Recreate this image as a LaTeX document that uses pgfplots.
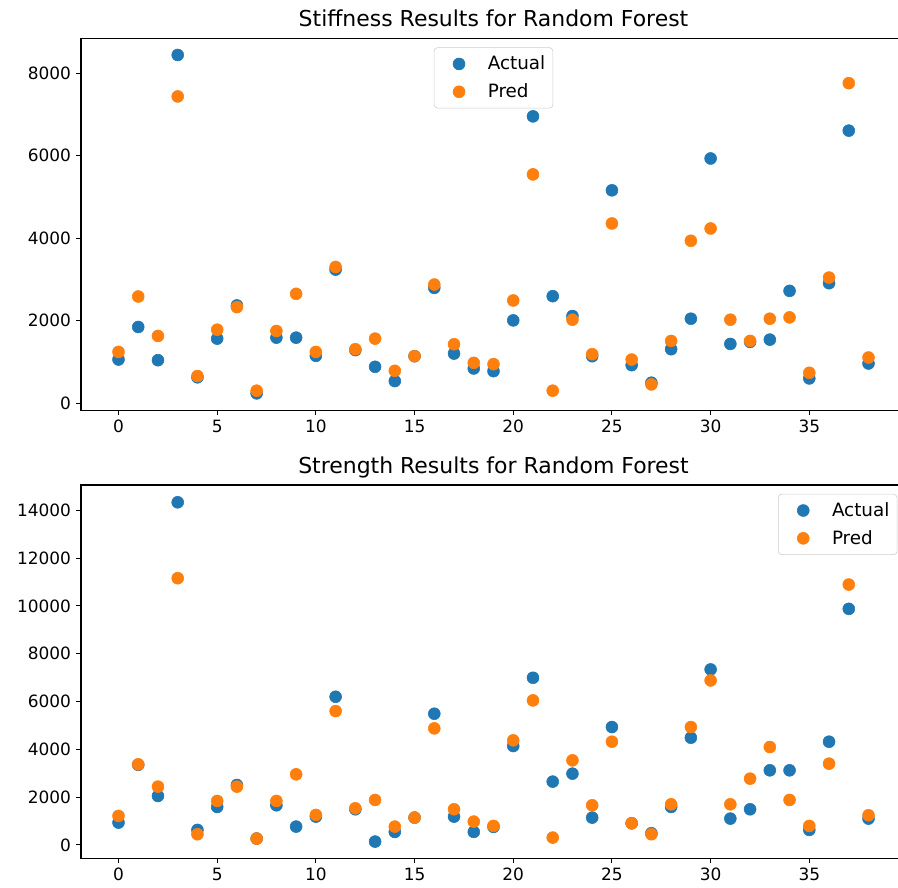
\documentclass[border=0pt]{standalone}
\usepackage{pgfplots}
\usepackage{pgfplotstable}
\pgfplotsset{compat=1.18}
\usepackage{fontspec}
\setmainfont{DejaVu Sans}
\definecolor{tabblue}{HTML}{1F77B4}
\definecolor{taborange}{HTML}{FF7F0E}

\pgfplotstableread{
x a p
0 1061 1246
1 1850 2589
2 1045 1633
3 8444 7439
4 630 660
5 1568 1785
6 2372 2332
7 241 306
8 1592 1753
9 1592 2654
10 1150 1246
11 3241 3305
12 1290 1311
13 885 1568
14 539 788
15 1142 1142
16 2799 2879
17 1206 1431
18 844 981
19 780 949
20 2010 2493
21 6956 5549
22 2597 306
23 2115 2027
24 1142 1190
25 5163 4359
26 925 1061
27 499 458
28 1311 1512
29 2051 3940
30 5935 4238
31 1439 2027
32 1488 1512
33 1544 2051
34 2726 2083
35 603 740
36 2911 3048
37 6610 7760
38 965 1110
}\stiff

\pgfplotstableread{
x a p
0 933 1212
1 3350 3371
2 2048 2438
3 14334 11158
4 627 446
5 1588 1839
6 2507 2438
7 265 265
8 1658 1839
9 766 2953
10 1184 1254
11 6199 5600
12 1490 1532
13 139 1881
14 543 766
15 1142 1142
16 5488 4876
17 1184 1490
18 543 975
19 752 794
20 4137 4374
21 6993 6046
22 2647 306
23 2981 3538
24 1142 1658
25 4931 4318
26 905 905
27 488 446
28 1588 1699
29 4485 4931
30 7341 6881
31 1100 1699
32 1490 2772
33 3120 4095
34 3120 1881
35 627 794
36 4318 3399
37 9876 10893
38 1100 1240
}\strength

\pgfplotsset{
 mystyle/.style={
  scale only axis, width=594pt,
  xmin=-1.9, xmax=39.9,
  xtick={0,5,...,35},
  tick align=outside, tick pos=left,
  major tick length=3.7pt,
  every tick/.style={black, line width=0.8pt},
  axis line style={line width=0.8pt},
  ticklabel style={font=\fontsize{12.2}{14}\selectfont},
  /pgf/number format/assume math mode=true,
  /pgf/number format/1000 sep={},
  scaled y ticks=false,
  title style={font=\fontsize{15.8}{18}\selectfont, anchor=base, yshift=2.4pt},
  legend cell align=left,
  legend style={draw=black!20, rounded corners=2.5pt, fill=white, font=\fontsize{13.2}{15}\selectfont, inner xsep=3.5pt, inner ysep=4pt, row sep=4.5pt},
  legend image code/.code={\path (0,0) (1.15cm,0); \draw[##1] plot coordinates {(0.5cm,0cm)};},
 },
 act/.style={only marks, mark=*, mark size=4.3pt, color=tabblue},
 prd/.style={only marks, mark=*, mark size=4.3pt, color=taborange},
}

\begin{document}
\begin{tikzpicture}
\begin{axis}[mystyle, at={(0pt,0pt)}, anchor=south west, height=268pt,
  ymin=-169, ymax=8854, ytick={0,2000,4000,6000,8000},
  title={Stiffness Results for Random Forest},
  legend style={at={(0.5,0.975)}, anchor=north}]
\addplot[act] table[x=x, y=a] {\stiff};
\addlegendentry{Actual}
\addplot[prd] table[x=x, y=p] {\stiff};
\addlegendentry{Pred}
\end{axis}
\begin{axis}[mystyle, at={(0pt,-322.56pt)}, anchor=south west, height=268.8pt,
  ymin=-560, ymax=15060, ytick={0,2000,...,14000},
  title={Strength Results for Random Forest},
  legend style={at={(0.9895,0.976)}, anchor=north east}]
\addplot[act] table[x=x, y=a] {\strength};
\addlegendentry{Actual}
\addplot[prd] table[x=x, y=p] {\strength};
\addlegendentry{Pred}
\end{axis}
\pgfresetboundingbox
\useasboundingbox (-58.32pt,-343.9pt) rectangle (588.24pt,295.4pt);
\end{tikzpicture}
\end{document}
